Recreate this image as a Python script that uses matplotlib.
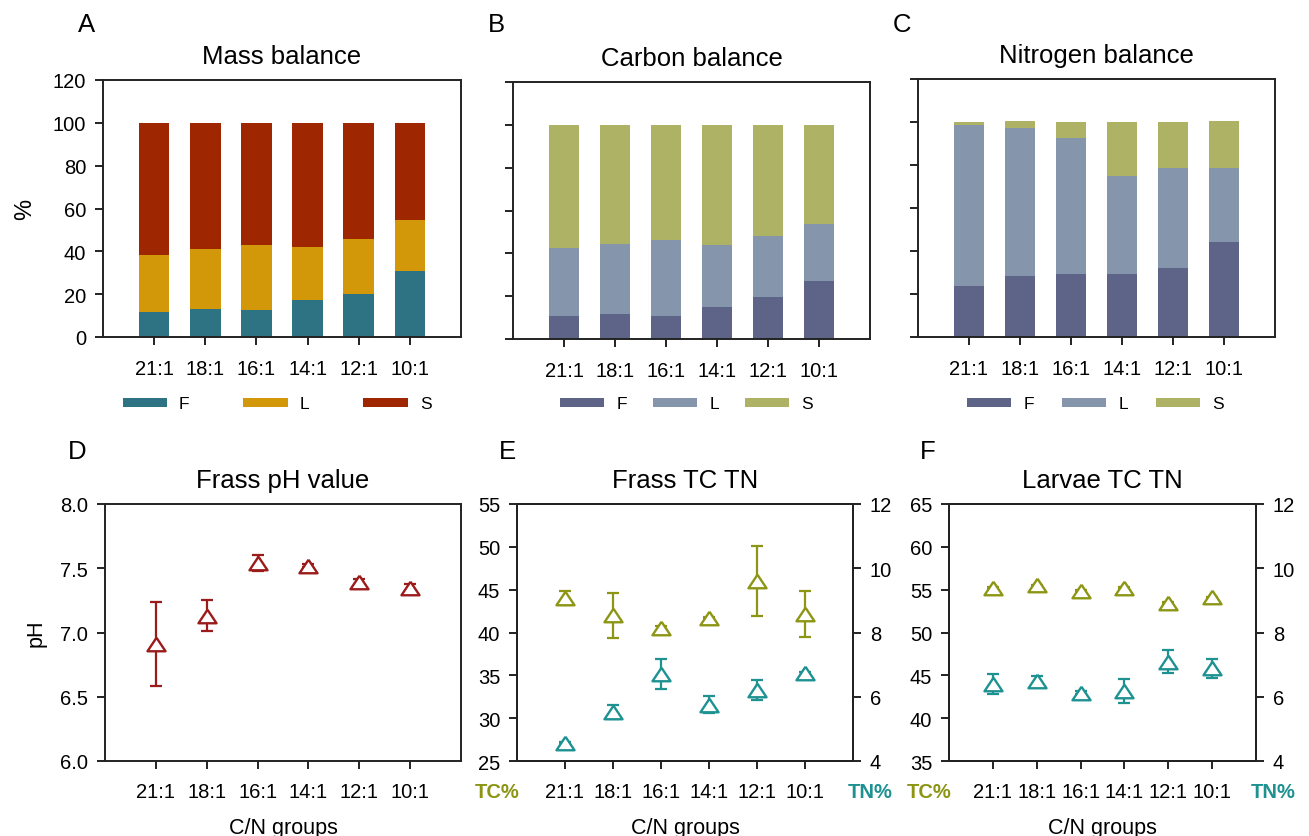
import matplotlib
matplotlib.use("Agg")
import matplotlib.pyplot as plt
from matplotlib.patches import Patch
import numpy as np

plt.rcParams['font.family'] = ['Liberation Sans', 'DejaVu Sans']

groups = ["21:1", "18:1", "16:1", "14:1", "12:1", "10:1"]

# Mass balance (%)
mass_F = [11.7, 12.9, 12.4, 17.1, 20.1, 30.6]
mass_L = [26.6, 28.3, 30.7, 25.0, 25.8, 24.1]
mass_S = [61.7, 58.8, 56.9, 57.9, 54.1, 45.3]

# Carbon balance (%)
carb_F = [10.9, 11.7, 10.6, 14.8, 19.5, 27.1]
carb_L = [31.5, 32.5, 35.7, 29.1, 28.6, 26.8]
carb_S = [57.6, 55.8, 53.7, 56.1, 51.9, 46.1]

# Nitrogen balance (%)
nit_F = [23.8, 28.5, 29.1, 29.4, 32.3, 44.0]
nit_L = [75.0, 68.7, 63.4, 45.7, 46.2, 34.7]
nit_S = [1.2, 3.3, 7.5, 24.9, 21.5, 21.6]

# Frass pH
ph_mean = [6.91, 7.13, 7.54, 7.52, 7.39, 7.35]
ph_err = [0.33, 0.12, 0.06, 0.01, 0.03, 0.03]

# Frass TC / TN
frass_tc = [44.0, 42.0, 40.5, 41.7, 46.0, 42.2]
frass_tc_err = [0.8, 2.6, 0.3, 0.1, 4.1, 2.7]
frass_tn = [4.55, 5.53, 6.70, 5.75, 6.20, 6.73]
frass_tn_err = [0.03, 0.21, 0.46, 0.26, 0.31, 0.05]

# Larvae TC / TN
larv_tc = [55.2, 55.5, 54.9, 55.2, 53.5, 54.1]
larv_tc_err = [0.1, 0.1, 0.1, 0.1, 0.1, 0.1]
larv_tn = [6.41, 6.49, 6.13, 6.18, 7.09, 6.88]
larv_tn_err = [0.31, 0.16, 0.05, 0.38, 0.35, 0.29]

C_A = ["#2E7384", "#D2980A", "#9E2600"]
C_BC = ["#5D6487", "#8596AC", "#ADB264"]
C_PH = "#9B1B1B"
C_TC = "#8C9614"
C_TN = "#1E9191"
SP = "#222222"

W, H = 1309, 837
fig = plt.figure(figsize=(W / 100, H / 100), dpi=100)


def add_ax(l, r, t, b):
    return fig.add_axes([l / W, 1 - b / H, (r - l) / W, (b - t) / H])


def style(ax, xpad=11):
    for s in ax.spines.values():
        s.set_linewidth(1.4)
        s.set_color(SP)
    ax.tick_params(direction='out', length=6, width=1.4, color=SP,
                   labelsize=14.5, pad=6)
    ax.tick_params(axis='x', pad=xpad)
    ax.set_xlim(-1, 6)
    ax.set_xticks(range(len(groups)))
    ax.set_xticklabels(groups)


x = np.arange(len(groups))
TITLE_FS = 18.5
LETTER_FS = 18.5

bar_specs = [
    ((103, 461, 81, 338), "Mass balance", (mass_F, mass_L, mass_S), C_A, "A", True, 3.1, -5),
    ((513, 870, 83, 340), "Carbon balance", (carb_F, carb_L, carb_S), C_BC, "B", False, 1.5, -5),
    ((918, 1275, 80, 338), "Nitrogen balance", (nit_F, nit_L, nit_S), C_BC, "C", False, 1.6, -1),
]
for (l, r, t, b), title, series, cols, letter, lab, cs, off in bar_specs:
    ax = add_ax(l, r, t, b)
    style(ax, xpad=10)
    bottom = np.zeros(len(groups))
    for vals, c in zip(series, cols):
        ax.bar(x, vals, 0.6, bottom=bottom, color=c, edgecolor='none', zorder=2)
        bottom = bottom + np.array(vals)
    ax.set_ylim(0, 120)
    ax.set_yticks(range(0, 121, 20))
    if lab:
        ax.set_ylabel("%", fontsize=17, labelpad=12)
    else:
        ax.set_yticklabels([])
    ax.set_title(title, fontsize=TITLE_FS, pad=12)
    fig.text((l - 25) / W, 1 - 25 / H, letter, fontsize=LETTER_FS, ha='left', va='center')
    handles = [Patch(facecolor=c, edgecolor='none') for c in cols]
    ax.legend(handles, ["F", "L", "S"], loc='center',
              bbox_to_anchor=(((l + r) / 2 + off) / W, 1 - 405 / H),
              bbox_transform=fig.transFigure, ncol=3, frameon=False,
              fontsize=12.5, handlelength=2.55, handleheight=0.45,
              handletextpad=0.7, columnspacing=cs)

tri = [(0, 0.75), (-1, -0.75), (1, -0.75), (0, 0.75)]
MS = 13

# Panel D
axD = add_ax(105, 461, 505, 762)
style(axD, xpad=9)
axD.errorbar(x, ph_mean, yerr=ph_err, fmt='none', ecolor=C_PH, elinewidth=1.6,
             capsize=4, capthick=1.6, zorder=2)
axD.plot(x, ph_mean, linestyle='none', marker=tri, markersize=MS,
         markerfacecolor='white', markeredgecolor=C_PH, markeredgewidth=1.7, zorder=3)
axD.set_ylim(6.0, 8.0)
axD.set_yticks([6.0, 6.5, 7.0, 7.5, 8.0])
axD.set_yticklabels(["6.0", "6.5", "7.0", "7.5", "8.0"])
axD.set_ylabel("pH", fontsize=15.5, labelpad=10)
axD.set_xlabel("C/N groups", fontsize=15.5, labelpad=12)
axD.set_title("Frass pH value", fontsize=TITLE_FS, pad=12)
fig.text(77 / W, 1 - 452 / H, "D", fontsize=LETTER_FS, ha='center', va='center')


def dual(l, r, tc, tce, tn, tne, tclim, tcticks, title, letter, lx):
    ax = add_ax(l, r, 505, 762)
    style(ax, xpad=9)
    ax2 = ax.twinx()
    for s in ax2.spines.values():
        s.set_linewidth(1.4)
        s.set_color(SP)
    ax2.tick_params(direction='out', length=6, width=1.4, color=SP,
                    labelsize=14.5, pad=6)
    ax.errorbar(x, tc, yerr=tce, fmt='none', ecolor=C_TC, elinewidth=1.6,
                capsize=4, capthick=1.6, zorder=2)
    ax.plot(x, tc, linestyle='none', marker=tri, markersize=MS,
            markerfacecolor='white', markeredgecolor=C_TC, markeredgewidth=1.7, zorder=3)
    ax2.errorbar(x, tn, yerr=tne, fmt='none', ecolor=C_TN, elinewidth=1.6,
                 capsize=4, capthick=1.6, zorder=2)
    ax2.plot(x, tn, linestyle='none', marker=tri, markersize=MS,
             markerfacecolor='white', markeredgecolor=C_TN, markeredgewidth=1.7, zorder=3)
    ax.set_ylim(*tclim)
    ax.set_yticks(tcticks)
    ax2.set_ylim(4, 12)
    ax2.set_yticks([4, 6, 8, 10, 12])
    ax2.set_xlim(-1, 6)
    ax.set_xlabel("C/N groups", fontsize=15.5, labelpad=12)
    ax.set_title(title, fontsize=TITLE_FS, pad=12)
    fig.text(lx / W, 1 - 452 / H, letter, fontsize=LETTER_FS, ha='center', va='center')
    fig.text((l - 20) / W, 1 - 793 / H, "TC%", fontsize=14.5, fontweight='bold',
             color=C_TC, ha='center', va='center')
    fig.text((r + 17) / W, 1 - 793 / H, "TN%", fontsize=14.5, fontweight='bold',
             color=C_TN, ha='center', va='center')


dual(517, 853, frass_tc, frass_tc_err, frass_tn, frass_tn_err, (25, 55),
     [25, 30, 35, 40, 45, 50, 55], "Frass TC TN", "E", 507)
dual(949, 1256, larv_tc, larv_tc_err, larv_tn, larv_tn_err, (35, 65),
     [35, 40, 45, 50, 55, 60, 65], "Larvae TC TN", "F", 928)

fig.savefig("out.png", dpi=100, facecolor='white')
